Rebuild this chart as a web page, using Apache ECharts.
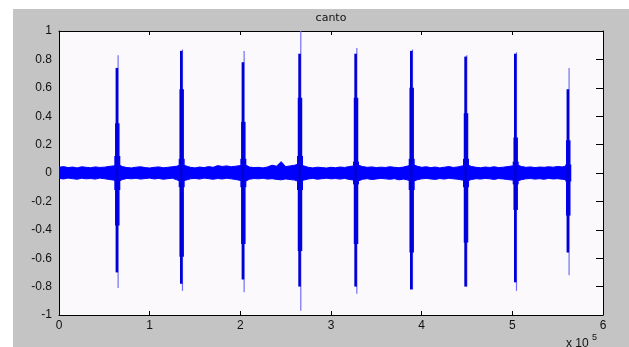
<!DOCTYPE html>
<html>
<head>
<meta charset="utf-8">
<script src="https://cdn.jsdelivr.net/npm/echarts@6/dist/echarts.min.js"></script>
<style>
  html, body { margin: 0; padding: 0; background: #fff; }
  #chart { width: 629px; height: 347px; }
</style>
</head>
<body>
<div id="chart"></div>
<script>
// x values are in units of 1e5 samples
const xTicks = [0, 1, 2, 3, 4, 5, 6]
const yTicks = [-1, -0.8, -0.6, -0.4, -0.2, 0, 0.2, 0.4, 0.6, 0.8, 1]

// background noise envelope, one pair every 0.05 (x 1e5) from 0 to 5.60
const noiseStep = 0.05
const noiseHi = [
  0.040, 0.045, 0.038, 0.042, 0.036, 0.044, 0.040, 0.037, 0.043, 0.039,
  0.041, 0.046, 0.050, 0.060, 0.045, 0.038, 0.036, 0.041, 0.044, 0.038,
  0.035, 0.040, 0.043, 0.037, 0.040, 0.044, 0.048, 0.060, 0.050, 0.040,
  0.036, 0.042, 0.038, 0.045, 0.040, 0.052, 0.046, 0.050, 0.044, 0.048,
  0.052, 0.060, 0.042, 0.038, 0.040, 0.036, 0.043, 0.055, 0.048, 0.080,
  0.045, 0.050, 0.055, 0.065, 0.050, 0.040, 0.036, 0.041, 0.038, 0.035,
  0.040, 0.037, 0.042, 0.039, 0.045, 0.050, 0.055, 0.045, 0.040, 0.043,
  0.038, 0.041, 0.039, 0.044, 0.040, 0.037, 0.042, 0.050, 0.060, 0.048,
  0.040, 0.044, 0.038, 0.042, 0.036, 0.041, 0.045, 0.039, 0.043, 0.050,
  0.058, 0.046, 0.040, 0.037, 0.042, 0.039, 0.044, 0.038, 0.041, 0.045,
  0.050, 0.058, 0.046, 0.040, 0.043, 0.038, 0.042, 0.040, 0.044, 0.041,
  0.046, 0.043, 0.050
]
const noiseLo = [
  -0.038, -0.042, -0.036, -0.040, -0.044, -0.037, -0.041, -0.039, -0.043, -0.036,
  -0.040, -0.045, -0.050, -0.060, -0.046, -0.038, -0.041, -0.037, -0.043, -0.039,
  -0.036, -0.042, -0.038, -0.044, -0.040, -0.037, -0.048, -0.060, -0.050, -0.041,
  -0.038, -0.043, -0.036, -0.040, -0.044, -0.039, -0.042, -0.037, -0.041, -0.046,
  -0.052, -0.060, -0.044, -0.039, -0.041, -0.037, -0.043, -0.040, -0.045, -0.048,
  -0.042, -0.046, -0.050, -0.062, -0.050, -0.042, -0.038, -0.044, -0.040, -0.037,
  -0.041, -0.039, -0.043, -0.038, -0.045, -0.050, -0.056, -0.044, -0.040, -0.046,
  -0.042, -0.038, -0.041, -0.044, -0.040, -0.048, -0.043, -0.050, -0.060, -0.048,
  -0.041, -0.038, -0.042, -0.045, -0.039, -0.043, -0.037, -0.041, -0.044, -0.050,
  -0.056, -0.046, -0.040, -0.043, -0.038, -0.041, -0.045, -0.039, -0.042, -0.046,
  -0.050, -0.058, -0.047, -0.041, -0.039, -0.043, -0.040, -0.044, -0.038, -0.042,
  -0.040, -0.044, -0.048
]

// the nine calls: position and envelope levels
const burstX  = [0.643, 1.353, 2.033, 2.658, 3.276, 3.890, 4.489, 5.037, 5.617]
const traceHi = [0.83, 0.87, 0.86, 1.00, 0.88, 0.87, 0.83, 0.85, 0.74]
const traceLo = [-0.81, -0.83, -0.84, -0.97, -0.85, -0.82, -0.80, -0.83, -0.72]
const coreHi  = [0.74, 0.86, 0.78, 0.84, 0.84, 0.86, 0.82, 0.84, 0.59]
const coreLo  = [-0.70, -0.78, -0.75, -0.80, -0.80, -0.82, -0.80, -0.77, -0.56]
const bodyHi  = [0.35, 0.59, 0.36, 0.53, 0.53, 0.60, 0.42, 0.25, 0.23]
const bodyLo  = [-0.37, -0.59, -0.50, -0.55, -0.50, -0.56, -0.49, -0.26, -0.30]
const baseHi  = [0.12, 0.10, 0.10, 0.12, 0.08, 0.10, 0.10, 0.08, 0.06]
const baseLo  = [-0.12, -0.10, -0.10, -0.12, -0.08, -0.12, -0.10, -0.08, -0.06]

const noiseTop = noiseHi.map((v, i) => [i * noiseStep, v])
const noiseBottom = noiseLo.map((v, i) => [i * noiseStep, v])
const bursts = burstX.map((x, i) => [x, traceHi[i], traceLo[i], coreHi[i], coreLo[i],
  bodyHi[i], bodyLo[i], baseHi[i], baseLo[i]])

const blue = '#0000ff'
const font = 'Liberation Sans, Arial, sans-serif'

let myChart = echarts.init(document.getElementById('chart'))

function renderBurst (params, api) {
  const x = api.value(0)
  const seg = (hi, lo, dx, w, color) => {
    const p1 = api.coord([x, hi])
    const p2 = api.coord([x, lo])
    return {
      type: 'rect',
      shape: { x: p1[0] + dx - w / 2, y: p1[1], width: w, height: p2[1] - p1[1] },
      style: { fill: color }
    }
  }
  return {
    type: 'group',
    children: [
      seg(api.value(1), api.value(2), 0.8, 1.2, '#7070f4'),
      seg(api.value(7), api.value(8), 0, 6, blue),
      seg(api.value(5), api.value(6), 0, 4.5, blue),
      seg(api.value(3), api.value(4), -0.4, 2.6, '#0000d4')
    ]
  }
}

const axisLine = { onZero: false, lineStyle: { color: '#000', width: 1 } }

myChart.setOption({
  backgroundColor: '#fff',
  animation: false,
  grid: {
    left: 59, right: 26, top: 31, bottom: 32,
    show: true, backgroundColor: '#fcf9fc', borderWidth: 0,
    outerBoundsMode: 'none'
  },
  graphic: [
    { type: 'rect', z: -100, left: 13, top: 9, shape: { width: 616, height: 338 }, style: { fill: '#c4c4c4' } },
    { type: 'text', x: 331, y: 13, style: { text: 'canto', fill: '#111', font: '11px DejaVu Sans', textAlign: 'center' } },
    { type: 'text', x: 566, y: 338, style: { text: 'x 10', fill: '#111', font: '12px ' + font } },
    { type: 'text', x: 592, y: 333, style: { text: '5', fill: '#111', font: '9px ' + font } }
  ],
  xAxis: [
    {
      type: 'value', min: xTicks[0], max: xTicks[xTicks.length - 1], interval: 1,
      position: 'bottom', axisLine: axisLine,
      axisTick: { inside: true, length: 4, lineStyle: { color: '#000' } },
      axisLabel: { color: '#111', fontSize: 12, fontFamily: font, margin: 5 },
      splitLine: { show: false }
    },
    {
      type: 'value', min: xTicks[0], max: xTicks[xTicks.length - 1], interval: 1,
      position: 'top', axisLine: axisLine,
      axisTick: { inside: true, length: 4, lineStyle: { color: '#000' } },
      axisLabel: { show: false },
      splitLine: { show: false }
    }
  ],
  yAxis: [
    {
      type: 'value', min: yTicks[0], max: yTicks[yTicks.length - 1], interval: 0.2,
      position: 'left', axisLine: axisLine,
      axisTick: { show: false },
      axisLabel: { color: '#111', fontSize: 12, fontFamily: font, margin: 7 },
      splitLine: { show: false }
    },
    {
      type: 'value', min: yTicks[0], max: yTicks[yTicks.length - 1], interval: 0.2,
      position: 'right', axisLine: axisLine,
      axisTick: { inside: true, length: 7, lineStyle: { color: '#000' } },
      axisLabel: { show: false },
      splitLine: { show: false }
    }
  ],
  series: [
    {
      name: 'noise top', type: 'line', data: noiseTop, showSymbol: false,
      lineStyle: { color: blue, width: 1 }, areaStyle: { color: blue, opacity: 1 }
    },
    {
      name: 'noise bottom', type: 'line', data: noiseBottom, showSymbol: false,
      lineStyle: { color: blue, width: 1 }, areaStyle: { color: blue, opacity: 1 }
    },
    {
      name: 'calls', type: 'custom', renderItem: renderBurst, data: bursts,
      encode: { x: 0, y: [1, 2] }, z: 3
    }
  ]
})
</script>
</body>
</html>
